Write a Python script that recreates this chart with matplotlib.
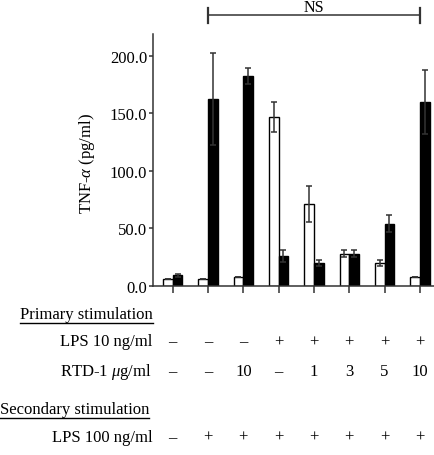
import matplotlib
matplotlib.use("Agg")
import matplotlib.pyplot as plt
import matplotlib.transforms as mtransforms
from matplotlib.lines import Line2D
import numpy as np

plt.rcParams['font.family'] = ['Liberation Serif', 'DejaVu Serif']
plt.rcParams['mathtext.fontset'] = 'custom'
plt.rcParams['mathtext.rm'] = 'Liberation Serif'
plt.rcParams['mathtext.it'] = 'Liberation Serif:italic'

# values (pg/ml)
white_vals = [6, 6, 8, 147, 71, 28, 20, 8]
white_err = [0, 0, 0, 13, 16, 3, 2.5, 0]
black_vals = [9, 162, 182, 26, 20, 28, 54, 160]
black_err = [1, 40, 7, 5, 2.5, 3, 7.5, 28]

lps10 = ['–', '–', '–', '+', '+', '+', '+', '+']
rtd1 = ['–', '–', '10', '–', '1', '3', '5', '10']
lps100 = ['–', '+', '+', '+', '+', '+', '+', '+']

yticks = [0, 50, 100, 150, 200]
line_col = '#333333'

fig = plt.figure(figsize=(4.35, 4.56), dpi=100)
ax = fig.add_axes([153 / 435, 1 - 286.7 / 456, 282 / 435, 251.7 / 456])

x = np.arange(len(white_vals))
w = 0.275
ekw = dict(ecolor=line_col, elinewidth=1.1, capsize=2.3, capthick=1.1)
ax.bar(x - w / 2, white_vals, w, color='white', edgecolor='black', linewidth=1.0,
       yerr=white_err, error_kw=ekw, zorder=2)
ax.bar(x + w / 2, black_vals, w, color='black', edgecolor='black', linewidth=1.0,
       yerr=black_err, error_kw=ekw, zorder=2)

ax.set_xlim(-0.558, 7.43)
ax.set_ylim(0, 218.9)
ax.set_xticks(x)
ax.set_xticklabels([])
ax.set_yticks(yticks)
ax.set_yticklabels([f"{v:.1f}" for v in yticks], fontsize=12)
ax.tick_params(axis='y', direction='out', length=2.7, width=1.1, color=line_col, pad=1.5)
ax.tick_params(axis='x', direction='out', length=5, width=1.1, color=line_col)
for s in ['top', 'right']:
    ax.spines[s].set_visible(False)
for s in ['left', 'bottom']:
    ax.spines[s].set_color(line_col)
    ax.spines[s].set_linewidth(1.1)

ax.set_ylabel(r"TNF-$\alpha$ (pg/ml)", fontsize=12)
ax.yaxis.set_label_coords(-0.199, 0.49)

# NS bracket
yb = 235.4
ax.plot([1, 7], [yb, yb], color=line_col, lw=1.1, clip_on=False)
for xe in (1, 7):
    ax.plot([xe, xe], [228.4, 241.8], color=line_col, lw=1.6, clip_on=False)

# condition table under the axis
trans = mtransforms.blended_transform_factory(ax.transData, fig.transFigure)
fs = 12


def fy(py):
    return 1 - py / 456


ax.text(4, fy(7.5), "NS", transform=trans, ha='center', va='center', fontsize=11.5)


def underline(txt):
    fig.canvas.draw()
    bb = txt.get_window_extent()
    y0 = bb.y0 - 1
    fig.add_artist(Line2D([bb.x0 / 435, bb.x1 / 435], [y0 / 456, y0 / 456],
                          color='black', lw=1.0, transform=fig.transFigure))


t1 = fig.text(20 / 435, fy(315), "Primary stimulation", ha='left', va='center', fontsize=fs)
t2 = fig.text(0 / 435, fy(410), "Secondary stimulation", ha='left', va='center', fontsize=fs)
fig.text(152 / 435, fy(342.5), "LPS 10 ng/ml", ha='right', va='center', fontsize=fs)
fig.text(152 / 435, fy(372), r"RTD-1 $\mu$g/ml", ha='right', va='center', fontsize=fs)
fig.text(153 / 435, fy(438), "LPS 100 ng/ml", ha='right', va='center', fontsize=fs)

for i in range(len(x)):
    ax.text(x[i], fy(342.5), lps10[i], transform=trans, ha='center', va='center', fontsize=fs)
    ax.text(x[i], fy(372), rtd1[i], transform=trans, ha='center', va='center', fontsize=fs)
    ax.text(x[i], fy(438), lps100[i], transform=trans, ha='center', va='center', fontsize=fs)

underline(t1)
underline(t2)

fig.savefig("out.png", dpi=100)
